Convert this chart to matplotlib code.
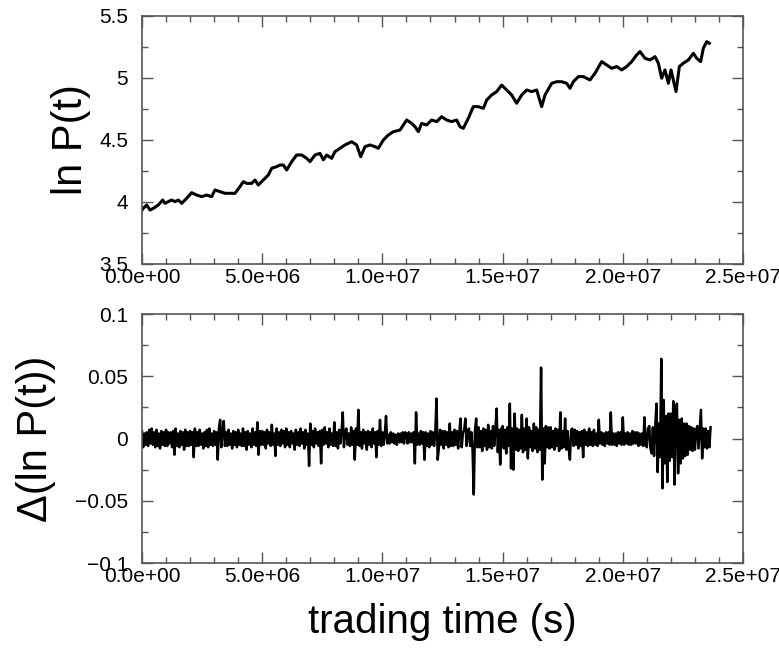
import numpy as np
import matplotlib
matplotlib.use("Agg")
import matplotlib.pyplot as plt
from matplotlib.ticker import MultipleLocator, FuncFormatter

plt.rcParams['font.family'] = ['Liberation Sans', 'DejaVu Sans']

# ln P(t) (time in units of 1e6 s)
t_price = [0.0, 0.055, 0.194, 0.333, 0.471, 0.679, 0.860, 0.957, 1.095, 1.234,
           1.373, 1.511, 1.650, 1.858, 2.066, 2.274, 2.482, 2.690, 2.898, 3.037,
           3.245, 3.453, 3.661, 3.868, 4.077, 4.215, 4.354, 4.562, 4.700, 4.839,
           5.047, 5.255, 5.394, 5.602, 5.740, 5.879, 6.018, 6.226, 6.434, 6.642,
           6.850, 6.988, 7.196, 7.404, 7.543, 7.682, 7.890, 8.028,
           8.236, 8.444, 8.722, 8.930, 9.096, 9.276, 9.484, 9.692, 9.831, 10.039,
           10.247, 10.455, 10.732, 11.009, 11.217, 11.356, 11.495, 11.633, 11.841,
           12.049, 12.257, 12.465, 12.673, 12.881, 13.089, 13.228, 13.366, 13.574,
           13.782, 13.990, 14.198, 14.337, 14.545, 14.753, 14.961, 15.169, 15.377,
           15.585, 15.793, 16.001, 16.209, 16.417, 16.625, 16.764,
           17.041, 17.249, 17.457, 17.665, 17.804, 17.942, 18.150, 18.358, 18.636,
           18.843, 19.121, 19.329, 19.537, 19.745, 19.953, 20.161, 20.369, 20.577,
           20.715, 20.923, 21.131, 21.339, 21.478, 21.617, 21.755, 21.894, 22.005,
           22.102, 22.213, 22.352, 22.518, 22.726, 22.934, 23.073, 23.239, 23.350,
           23.489, 23.600]
ln_price = [3.935, 3.949, 3.976, 3.935, 3.949, 3.976, 4.016, 3.989, 4.003, 4.016,
            4.003, 4.016, 3.989, 4.030, 4.075, 4.056, 4.043, 4.056, 4.043, 4.097,
            4.083, 4.070, 4.070, 4.070, 4.124, 4.164, 4.150, 4.150, 4.177, 4.137,
            4.177, 4.218, 4.272, 4.285, 4.298, 4.298, 4.258, 4.325, 4.379, 4.379,
            4.352, 4.325, 4.379, 4.392, 4.340, 4.379, 4.352, 4.406,
            4.433, 4.460, 4.486, 4.460, 4.365, 4.446, 4.460, 4.446, 4.433, 4.500,
            4.540, 4.567, 4.580, 4.661, 4.634, 4.607, 4.567, 4.634, 4.621,
            4.661, 4.648, 4.688, 4.661, 4.648, 4.661, 4.607, 4.594, 4.675,
            4.769, 4.769, 4.755, 4.822, 4.863, 4.890, 4.943, 4.903, 4.863,
            4.796, 4.863, 4.903, 4.890, 4.903, 4.769, 4.863,
            4.957, 4.970, 4.970, 4.957, 4.917, 4.970, 5.011, 5.011, 4.984,
            5.038, 5.132, 5.105, 5.078, 5.092, 5.065, 5.092, 5.132, 5.186,
            5.213, 5.159, 5.145, 5.172, 5.119, 4.998, 5.065, 4.957, 5.065,
            4.984, 4.890, 5.092, 5.119, 5.145, 5.199, 5.159, 5.132, 5.240,
            5.293, 5.280]

# Delta(ln P), one value every 0.05e6 s, in units of 1e-3 (one row per 1e6 s)
ret_step = 0.05
ret_milli = [
    6, -7, 4, -5, 5, -6, 7, -4, 8, -5, 5, -7, 7, -6, 4, -8, 6, -5, 5, -6,
    7, -6, 5, -4, 5, -7, 6, -13, 8, -6, 4, -7, 6, -5, 5, -9, 7, -6, 5, -6,
    6, -5, 5, -15, 8, -6, 5, -6, 7, -5, 4, -8, 5, -6, 7, -7, 8, -5, 4, -6,
    6, -5, 5, -17, 8, 15, -7, 6, 14, -6, 5, -6, 7, -5, 4, -8, 6, -5, 5, -7,
    7, -5, 4, -6, 8, -6, 5, -9, 6, -5, 4, -7, 8, -5, 5, -6, 13, -13, 6, -5,
    6, -5, 5, -8, 7, -4, 5, -6, 11, -5, 4, -14, 8, -5, 5, -6, 7, -4, 6, -7,
    8, -5, 5, -7, 6, -4, 4, -9, 7, -5, 5, -6, 8, -4, 5, -8, 7, -5, 4, -22,
    12, -5, 6, -7, 8, -4, 5, -6, 6, -20, 7, -5, 9, -4, 5, -7, 8, -5, 4, -6,
    13, -6, 5, -8, 7, -4, 5, 21, -7, 5, 8, -5, 4, -6, 9, -5, 6, -17, 8, -5,
    23, -6, 5, -8, 7, -4, 5, -9, 6, -5, 5, -7, 8, -4, 5, -15, 6, -5, 15, -6,
    5, -5, 4, 18, -4, 3, -4, 5, -3, 4, -4, 3, -5, 4, -3, 4, -3, 5, -4, 5,
    4, -4, 5, -3, 4, -3, 5, -20, 21, -5, 4, -5, 6, -4, 5, -17, 5, -6, 4, -7,
    6, -5, 5, -6, 5, 32, -17, -7, 7, -5, 6, -8, 6, -5, 5, -7, 12, -6, 5, -6,
    7, -5, 6, -8, 5, 16, -7, 5, 6, 16, -6, 5, 8, -6, 5, -9, -45, 6, 16, -7,
    9, -7, 6, -10, 8, -6, 7, -9, 11, -7, 6, -8, 10, -6, 8, 24, -11, 7, -21, 8,
    10, -8, 7, -12, 9, -6, 28, -24, 8, -25, 20, -9, 8, -10, 7, -8, 19, -11, 8, -9,
    16, -16, 9, -7, 6, -10, 12, -8, 9, -11, 7, -9, 57, -33, 8, -20, 10, -7, 9, -8,
    9, -7, 6, -9, 8, -6, 7, -10, 21, -8, 6, -7, 16, -9, 6, -8, -17, 7, 8, -6,
    7, -5, 6, -8, 5, -6, 6, -15, 7, -5, 5, -6, 8, -5, 5, -6, 7, -5, 4, -6,
    15, -4, 5, -5, 4, -6, 5, -4, 5, -5, 21, -5, 4, -5, 4, -6, 5, -4, 5, -5,
    17, -5, 4, -4, 5, -5, 4, -5, 6, -4, 5, -4, 5, -6, 4, -5, 4, -6, 17, -5,
    -7, 8, 10, -8, -12, 9, -14, 10, 28, -27, 12, -15, 64, -40, 31, -20, 18, -35, 20, -18,
    20, -15, 30, -37, 18, 28, -28, 15, -20, 16, -16, 12, -14, 12, -13, 10, -9, 9, -10, 8,
    -9, 7, 10, -8, 7, 23, -16, 8, -7, 8, -8, 6, -7, 9,
]

t_price = np.array(t_price) * 1e6
ret = np.array(ret_milli) * 1e-3
t_ret = np.arange(len(ret)) * ret_step * 1e6


def sci_fmt(v, pos):
    return f"{v:.1e}"


def plain_fmt(v, pos):
    s = f"{v:g}"
    return s.replace('-', '\u2212')


fig = plt.figure(figsize=(7.79, 6.52), dpi=100)
ax1 = fig.add_axes([0.1823, 0.5951, 0.7715, 0.3804])
ax2 = fig.add_axes([0.1823, 0.1365, 0.7715, 0.3819])

ax1.plot(t_price, ln_price, color='black', linewidth=2.2)
ax2.plot(t_ret, ret, color='black', linewidth=1.8)

ax1.set_ylim(3.5, 5.5)
ax1.yaxis.set_major_locator(MultipleLocator(0.5))
ax1.yaxis.set_minor_locator(MultipleLocator(0.25))
ax2.set_ylim(-0.1, 0.1)
ax2.yaxis.set_major_locator(MultipleLocator(0.05))
ax2.yaxis.set_minor_locator(MultipleLocator(0.025))

for ax in (ax1, ax2):
    ax.set_xlim(0, 2.5e7)
    ax.xaxis.set_major_locator(MultipleLocator(5e6))
    ax.xaxis.set_minor_locator(MultipleLocator(1e6))
    ax.xaxis.set_major_formatter(FuncFormatter(sci_fmt))
    ax.yaxis.set_major_formatter(FuncFormatter(plain_fmt))
    ax.tick_params(which='both', direction='in', top=True, right=True,
                   labelsize=15, color='#555555')
    ax.tick_params(which='major', length=8, width=1)
    ax.tick_params(which='minor', length=4, width=1)
    ax.tick_params(axis='x', pad=3)
    ax.tick_params(axis='y', pad=10)
    for sp in ax.spines.values():
        sp.set_color('#555555')
        sp.set_linewidth(1.2)

ax1.set_ylabel('ln P(t)', fontsize=30, labelpad=6)
ax2.set_ylabel('\u0394(ln P(t))', fontsize=30, labelpad=14)
ax2.set_xlabel('trading time (s)', fontsize=29, labelpad=12)

fig.savefig('out.png', dpi=100)
